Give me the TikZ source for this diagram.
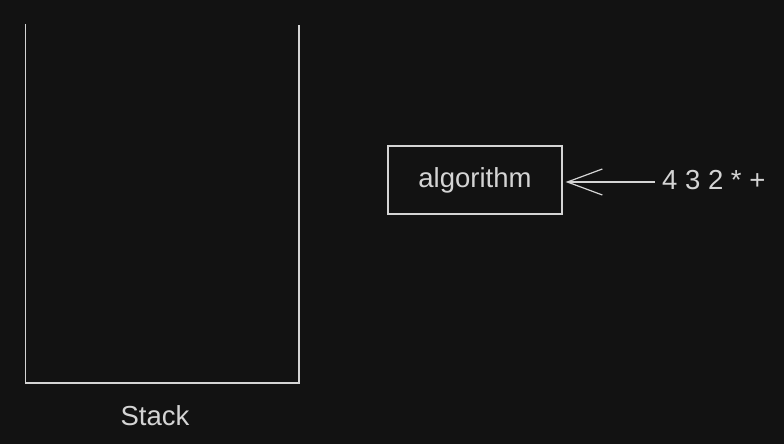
\documentclass[tikz,border=0pt]{standalone}
\usepackage{fontspec}
\setmainfont{Liberation Sans}
\usetikzlibrary{arrows.meta,positioning}
\definecolor{bg}{HTML}{121212}
\definecolor{ink}{HTML}{D4D4D4}
\tikzstyle{every node}=[text=ink,font=\fontsize{27.5}{32}\selectfont,text height=20pt,text depth=6pt]
\tikzstyle{box}=[draw=ink,line width=1.2pt,minimum width=174pt,minimum height=68pt,inner sep=0pt]
\tikzstyle{wall}=[draw=ink,line width=1.2pt]
\tikzstyle{feed}=[draw=ink,line width=1.2pt,-{Straight Barb[length=35pt,width=26pt,line width=1.2pt]},shorten >=3pt]

\begin{document}
\begin{tikzpicture}[x=1pt,y=-1pt]
  \fill[bg] (0,0) rectangle (784,444);
  \useasboundingbox (0,0) rectangle (784,444);
  % stack, open at the top
  \coordinate (tl) at (25.5,24);
  \coordinate (bl) at (25.5,383);
  \coordinate (br) at (299,383);
  \coordinate (tr) at (299,25);
  \draw[wall] (tl) -- (bl) -- (br) -- (tr);
  \node (stack) at (155,418) {Stack};
  % algorithm and its input
  \node[box] (algo) at (475,180) {algorithm};
  \node[anchor=west,inner xsep=7pt] (input) at (655,182) {4 3 2 * +};
  \draw[feed] (input.west) -- (input.west -| algo.east);
\end{tikzpicture}
\end{document}
